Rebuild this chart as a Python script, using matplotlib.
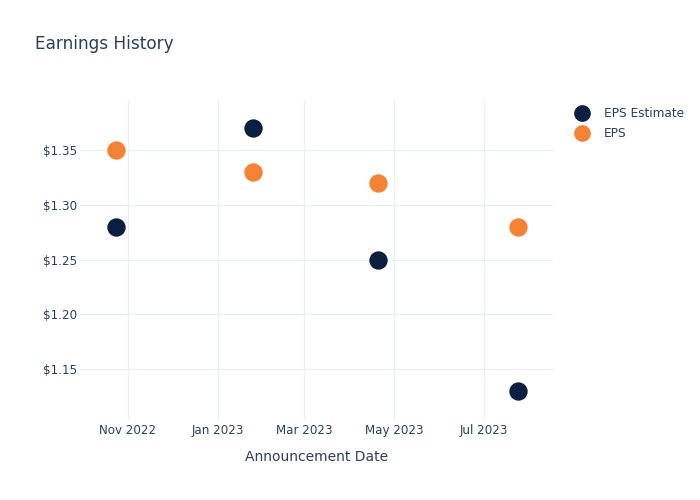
import matplotlib
matplotlib.use("Agg")
import matplotlib.pyplot as plt
import matplotlib.dates as mdates
from matplotlib.lines import Line2D
import numpy as np
from datetime import datetime

dates = ["2022-10-24", "2023-01-25", "2023-04-20", "2023-07-24"]
eps_estimate = [1.28, 1.37, 1.25, 1.13]
eps_actual = [1.35, 1.33, 1.32, 1.28]
y_ticks = [1.15, 1.20, 1.25, 1.30, 1.35]
x_ticks = ["2022-11-01", "2023-01-01", "2023-03-01", "2023-05-01", "2023-07-01"]
x_tick_labels = ["Nov 2022", "Jan 2023", "Mar 2023", "May 2023", "Jul 2023"]

navy = "#0b1f41"
orange = "#f58233"
text_c = "#2a3f5f"
grid_c = "#ebf0f8"

x = [datetime.strptime(d, "%Y-%m-%d") for d in dates]

fig = plt.figure(figsize=(7, 5), dpi=100)
ax = fig.add_axes([80/700, 80/500, 473/700, 320/500])

ax.scatter(x, eps_estimate, s=175, color=navy, zorder=3, linewidths=0)
ax.scatter(x, eps_actual, s=175, color=orange, zorder=3, linewidths=0)

ax.set_xlim(datetime(2022, 9, 29, 12), datetime(2023, 8, 17))
ax.set_ylim(1.1034, 1.3957)
ax.set_yticks(y_ticks)
ax.set_yticklabels([f"${v:.2f}" for v in y_ticks])
ax.set_xticks([datetime.strptime(d, "%Y-%m-%d") for d in x_ticks])
ax.set_xticklabels(x_tick_labels)
ax.tick_params(length=0, labelsize=8.6, labelcolor=text_c)
ax.tick_params(axis="y", pad=2)
ax.tick_params(axis="x", pad=3)
ax.grid(True, color=grid_c, linewidth=1)
ax.set_axisbelow(True)
for s in ax.spines.values():
    s.set_visible(False)
ax.set_xlabel("Announcement Date", fontsize=10, color=text_c, labelpad=9)

fig.text(35/700, 1 - 44/500, "Earnings History", fontsize=12.2, color=text_c, va="center", ha="left")

handles = [Line2D([], [], marker="o", linestyle="", markersize=11, color=navy),
           Line2D([], [], marker="o", linestyle="", markersize=11, color=orange)]
fig.legend(handles, ["EPS Estimate", "EPS"], loc="upper left",
           bbox_to_anchor=(575/700, 1 - 107/500), frameon=False,
           fontsize=8.7, labelcolor=text_c, handletextpad=1.2,
           labelspacing=0.6, handlelength=1.2, borderaxespad=0, borderpad=0)

fig.savefig("out.png", dpi=100)
